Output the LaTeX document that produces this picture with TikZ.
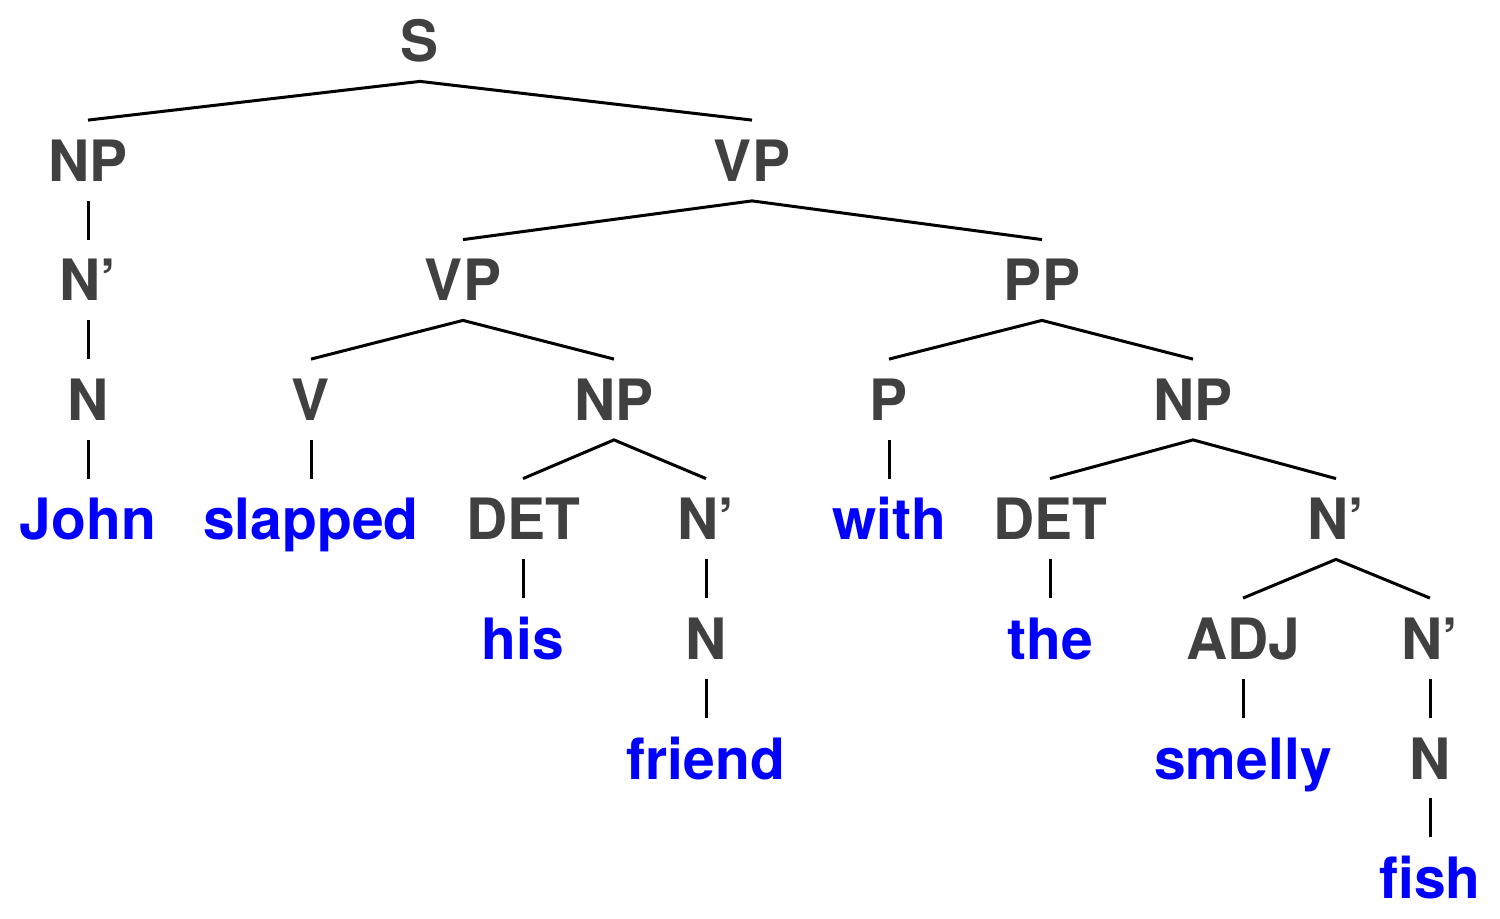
\documentclass[tikz,border=0pt]{standalone}
\usepackage{fontspec}
\setmainfont{TeX Gyre Heros}
\usepackage{tikz}
\definecolor{catgray}{RGB}{64,64,64}
\definecolor{wordblue}{RGB}{0,0,255}
\tikzset{lbl/.style={anchor=base,inner xsep=0pt,inner ysep=9.5pt,text height=21pt,text depth=0pt,font=\bfseries\fontsize{28.5}{34}\selectfont},
  cat/.style={lbl,text=catgray},
  wrd/.style={lbl,text=wordblue},
  branch/.style={line width=1.5pt}}
\begin{document}
\begin{tikzpicture}[x=0.5pt,y=0.5pt,yscale=-1,xscale=1]
\useasboundingbox (0,0) rectangle (1500,919);

% Text Node
\draw (420,62) node [cat] (S) {S};
% Text Node
\draw (88,181.5) node [cat] (np1) {NP};
\draw (752,181.5) node [cat] (vp1) {VP};
% Text Node
\draw (88,301) node [cat] (nbar1) {N’};
\draw (463,301) node [cat] (vp2) {VP};
\draw (1042,301) node [cat] (pp) {PP};
% Text Node
\draw (88,420.5) node [cat] (n1) {N};
\draw (311,420.5) node [cat] (v) {V};
\draw (614,420.5) node [cat] (np2) {NP};
\draw (889,420.5) node [cat] (p) {P};
\draw (1193,420.5) node [cat] (np3) {NP};
% Text Node
\draw (88,540) node [wrd] (john) {John};
\draw (311,540) node [wrd] (slapped) {slapped};
\draw (523,540) node [cat] (det1) {DET};
\draw (706,540) node [cat] (nbar2) {N’};
\draw (889,540) node [wrd] (with) {with};
\draw (1050,540) node [cat] (det2) {DET};
\draw (1336,540) node [cat] (nbar3) {N’};
% Text Node
\draw (523,659.5) node [wrd] (his) {his};
\draw (706,659.5) node [cat] (n2) {N};
\draw (1050,659.5) node [wrd] (the) {the};
\draw (1243,659.5) node [cat] (adj) {ADJ};
\draw (1430,659.5) node [cat] (nbar4) {N’};
% Text Node
\draw (706,779) node [wrd] (friend) {friend};
\draw (1243,779) node [wrd] (smelly) {smelly};
\draw (1430,779) node [cat] (n3) {N};
% Text Node
\draw (1430,898.5) node [wrd] (fish) {fish};

%Straight Lines
\draw [branch] (np1.north) -- (S.south) -- (vp1.north) ;
\draw [branch] (np1.south) -- (nbar1.north) ;
\draw [branch] (nbar1.south) -- (n1.north) ;
\draw [branch] (n1.south) -- (john.north) ;
\draw [branch] (vp2.north) -- (vp1.south) -- (pp.north) ;
\draw [branch] (v.north) -- (vp2.south) -- (np2.north) ;
\draw [branch] (v.south) -- (slapped.north) ;
\draw [branch] (det1.north) -- (np2.south) -- (nbar2.north) ;
\draw [branch] (det1.south) -- (his.north) ;
\draw [branch] (nbar2.south) -- (n2.north) ;
\draw [branch] (n2.south) -- (friend.north) ;
\draw [branch] (p.north) -- (pp.south) -- (np3.north) ;
\draw [branch] (p.south) -- (with.north) ;
\draw [branch] (det2.north) -- (np3.south) -- (nbar3.north) ;
\draw [branch] (det2.south) -- (the.north) ;
\draw [branch] (adj.north) -- (nbar3.south) -- (nbar4.north) ;
\draw [branch] (adj.south) -- (smelly.north) ;
\draw [branch] (nbar4.south) -- (n3.north) ;
\draw [branch] (n3.south) -- (fish.north) ;
\end{tikzpicture}
\end{document}
